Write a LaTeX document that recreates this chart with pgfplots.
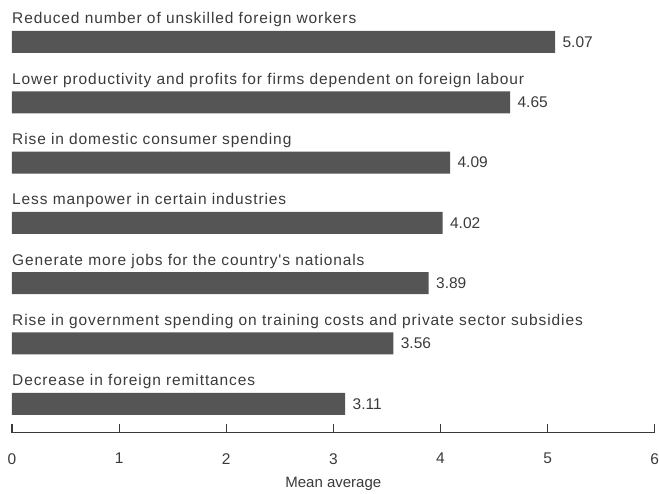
\documentclass[border=0pt]{standalone}
\usepackage{pgfplots}
\pgfplotsset{compat=1.18}
\usepackage{fontspec}
\setmainfont{Liberation Sans}
\newfontfamily\catfont[LetterSpace=5.8]{Liberation Sans}
\definecolor{barc}{HTML}{555555}
\definecolor{txt}{HTML}{3A3A3A}
\begin{document}
\begin{tikzpicture}[font=\fontsize{15bp}{17bp}\selectfont, text=txt]
\begin{axis}[
  name=ax,
  scale only axis,
  width=643bp, height=433bp,
  xmin=0, xmax=6, ymin=0.519, ymax=7.696,
  xbar, bar width=22bp,
  hide y axis,
  axis x line*=bottom,
  axis line style={txt, line width=1.2bp},
  xtick={0,1,2,3,4,5,6},
  tick align=inside,
  major tick length=9bp,
  tick style={txt, line width=1.2bp},
  xtick pos=bottom,
  /pgf/number format/assume math mode=true,
  xticklabel style={yshift=-17bp, inner xsep=0pt, font=\fontsize{15.5bp}{17bp}\selectfont},
  xlabel={Mean average},
  xlabel style={yshift=-6bp, font=\fontsize{15bp}{17bp}\selectfont},
  nodes near coords={\pgfmathprintnumber[fixed,fixed zerofill,precision=2]{\pgfplotspointmeta}},
  nodes near coords style={anchor=west, xshift=4bp, text=txt, font=\fontsize{15.5bp}{17bp}\selectfont},
  point meta=x,
  clip=false,
]
\addplot[fill=barc, draw=none] coordinates {
  (5.07,7) (4.65,6) (4.09,5) (4.02,4) (3.89,3) (3.56,2) (3.11,1)
};
\node[anchor=base west, inner sep=0pt, font=\catfont\fontsize{15.5bp}{17bp}\selectfont] at ([yshift=18bp]axis cs:0,7) {Reduced number of unskilled foreign workers};
\node[anchor=base west, inner sep=0pt, font=\catfont\fontsize{15.5bp}{17bp}\selectfont] at ([yshift=18bp]axis cs:0,6) {Lower productivity and profits for firms dependent on foreign labour};
\node[anchor=base west, inner sep=0pt, font=\catfont\fontsize{15.5bp}{17bp}\selectfont] at ([yshift=18bp]axis cs:0,5) {Rise in domestic consumer spending};
\node[anchor=base west, inner sep=0pt, font=\catfont\fontsize{15.5bp}{17bp}\selectfont] at ([yshift=18bp]axis cs:0,4) {Less manpower in certain industries};
\node[anchor=base west, inner sep=0pt, font=\catfont\fontsize{15.5bp}{17bp}\selectfont] at ([yshift=18bp]axis cs:0,3) {Generate more jobs for the country's nationals};
\node[anchor=base west, inner sep=0pt, font=\catfont\fontsize{15.5bp}{17bp}\selectfont] at ([yshift=18bp]axis cs:0,2) {Rise in government spending on training costs and private sector subsidies};
\node[anchor=base west, inner sep=0pt, font=\catfont\fontsize{15.5bp}{17bp}\selectfont] at ([yshift=18bp]axis cs:0,1) {Decrease in foreign remittances};
\end{axis}
\path ([xshift=-12bp,yshift=-61bp]ax.south west) -- ([xshift=4bp]ax.north east);
\end{tikzpicture}
\end{document}
